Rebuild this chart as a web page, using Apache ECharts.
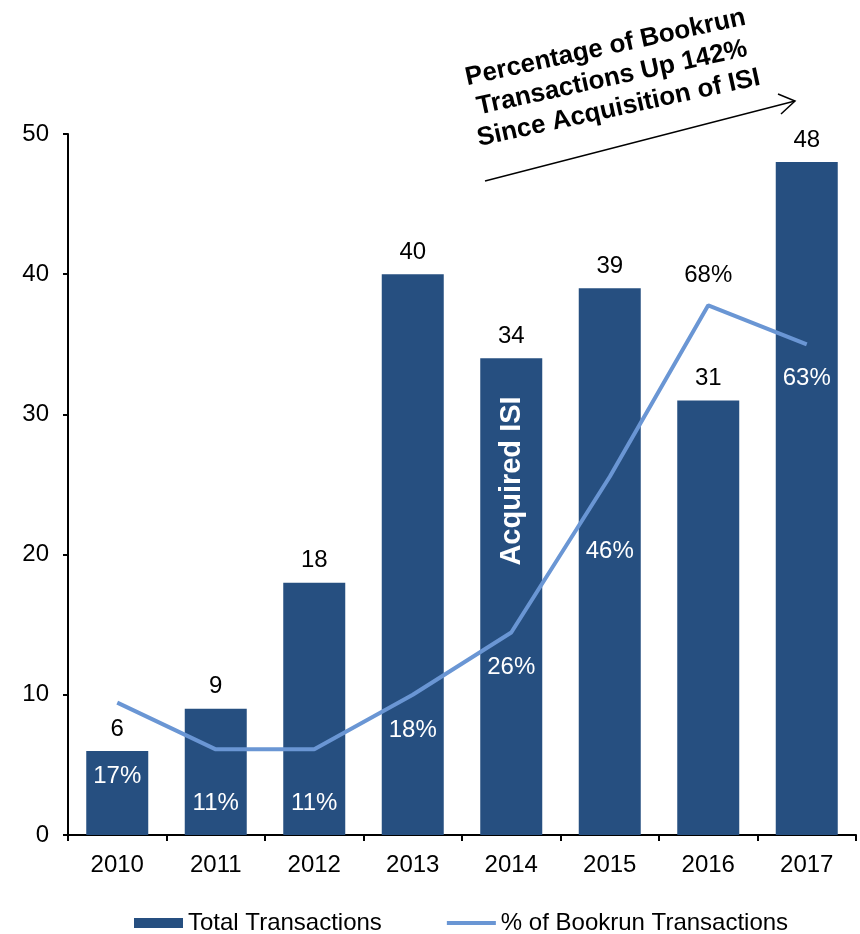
<!DOCTYPE html>
<html>
<head>
<meta charset="utf-8">
<script src="https://cdn.jsdelivr.net/npm/echarts@6/dist/echarts.min.js"></script>
<style>
  html, body { margin: 0; padding: 0; background: #fff; }
  #main { width: 860px; height: 934px; }
</style>
</head>
<body>
<div id="main"></div>
<script>
var years = ['2010', '2011', '2012', '2013', '2014', '2015', '2016', '2017'];
var totalTransactions = [6, 9, 18, 40, 34, 39, 31, 48];
var bookrunPct = [17, 11, 11, 18, 26, 46, 68, 63];
var leftTicks = [0, 10, 20, 30, 40, 50];

// how far each % label sits from its point (above for 2016, below otherwise)
var pctLabelDist = [62, 42, 42, 24, 23, 63, 18, 22];

var font = 'Liberation Sans, Arial, sans-serif';
var barColor = '#264f80';
var lineColor = '#6a96d4';

var pctData = bookrunPct.map(function (v, i) {
    var above = i === 6;
    return {
        value: v,
        label: {
            position: above ? 'top' : 'bottom',
            distance: pctLabelDist[i],
            color: above ? '#000' : '#fff'
        }
    };
});

var chart = echarts.init(document.getElementById('main'));
chart.setOption({
    animation: false,
    textStyle: { fontFamily: font },
    grid: { left: 68, right: 4, top: 134, bottom: 99 },
    legend: {
        left: 129,
        top: 906,
        itemWidth: 49,
        itemHeight: 10,
        itemGap: 65,
        textStyle: { fontSize: 24, color: '#000', fontFamily: font },
        data: [
            { name: 'Total Transactions', icon: 'rect' },
            { name: '% of Bookrun Transactions', icon: 'path://M0,0 L50,0 L50,4 L0,4 Z', itemStyle: { color: lineColor } }
        ]
    },
    xAxis: {
        type: 'category',
        data: years,
        axisLine: { lineStyle: { color: '#000', width: 2 } },
        axisTick: { show: true, length: 6, lineStyle: { color: '#000', width: 2 } },
        axisLabel: { fontSize: 24, color: '#000', margin: 18, fontFamily: font }
    },
    yAxis: [{
        type: 'value',
        min: leftTicks[0],
        max: leftTicks[leftTicks.length - 1],
        interval: 10,
        splitLine: { show: false },
        axisLine: { show: true, lineStyle: { color: '#000', width: 2 } },
        axisTick: { show: true, length: 5, lineStyle: { color: '#000', width: 2 } },
        axisLabel: { fontSize: 24, color: '#000', margin: 19, fontFamily: font }
    }, {
        type: 'value',
        min: 0,
        max: 90,
        show: false,
        splitLine: { show: false }
    }],
    series: [{
        name: 'Total Transactions',
        type: 'bar',
        barWidth: 62,
        data: totalTransactions,
        itemStyle: { color: barColor },
        label: {
            show: true,
            position: 'top',
            distance: 10,
            fontSize: 24,
            color: '#000',
            fontFamily: font
        }
    }, {
        name: '% of Bookrun Transactions',
        type: 'line',
        yAxisIndex: 1,
        symbol: 'circle',
        symbolSize: 0,
        data: pctData,
        lineStyle: { color: lineColor, width: 4 },
        itemStyle: { color: lineColor },
        label: {
            show: true,
            fontSize: 24,
            fontFamily: font,
            formatter: '{c}%'
        }
    }],
    graphic: [{
        type: 'text',
        x: 512,
        y: 481,
        rotation: Math.PI / 2,
        style: {
            text: 'Acquired ISI',
            fill: '#fff',
            font: 'bold 29px ' + font,
            align: 'center',
            verticalAlign: 'middle'
        },
        z: 100
    }, {
        type: 'text',
        x: 612,
        y: 78,
        rotation: 12.3 * Math.PI / 180,
        style: {
            text: 'Percentage of Bookrun\nTransactions Up 142%\nSince Acquisition of ISI',
            fill: '#000',
            font: 'bold 26px ' + font,
            lineHeight: 31,
            align: 'center',
            verticalAlign: 'middle'
        },
        z: 100
    }, {
        type: 'line',
        shape: { x1: 485, y1: 181, x2: 795, y2: 101 },
        style: { stroke: '#000', lineWidth: 1.5 },
        z: 100
    }, {
        type: 'polyline',
        shape: { points: [[778, 94], [795, 101], [781, 114]] },
        style: { stroke: '#000', lineWidth: 1.5, fill: null },
        z: 100
    }]
});
</script>
</body>
</html>
